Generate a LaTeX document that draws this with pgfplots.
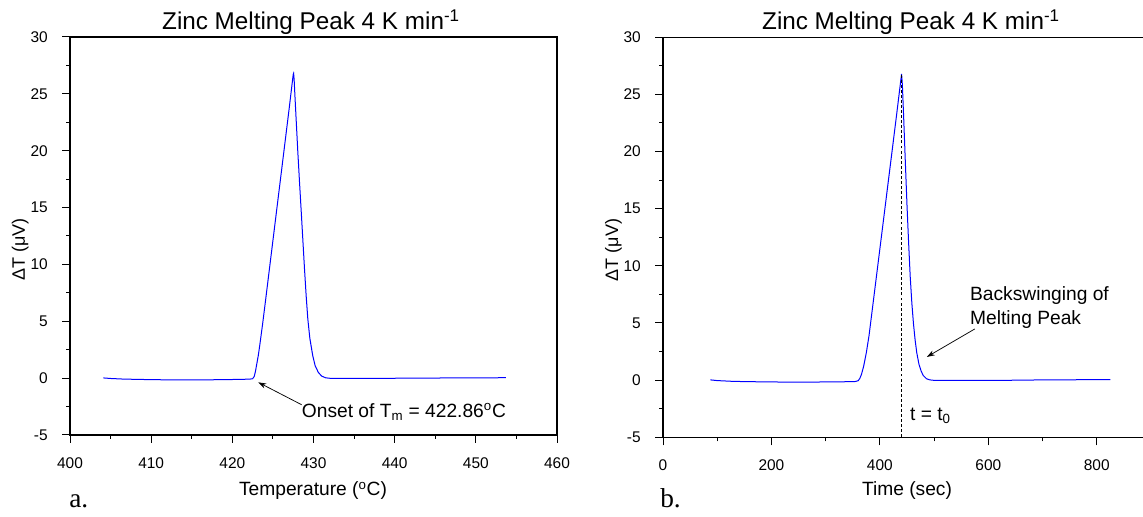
\documentclass[border=0pt]{standalone}
\usepackage{fontspec}
\setmainfont{Liberation Sans}
\newfontfamily\serifa{Liberation Serif}
\usepackage{pgfplots}
\pgfplotsset{compat=1.18}
\usetikzlibrary{arrows.meta}

\pgfplotsset{zstyle/.style={
  scale only axis,
  axis line style={line width=0.9pt},
  tick align=outside,
  tick pos=left,
  major tick length=6pt,
  minor tick length=3pt,
  every tick/.style={black, line width=0.75pt},
  minor tick num=1,
  ymin=-5, ymax=30,
  ytick={-5,0,5,10,15,20,25,30},
  /pgf/number format/assume math mode=true,
  ticklabel style={font=\fontsize{11.6}{13}\selectfont},
  yticklabel style={anchor=east, inner sep=0pt, xshift=-10.5pt},
  xticklabel style={anchor=north, inner sep=0pt, yshift=-10.5pt},
  clip=false,
}}

\begin{document}
\begin{tikzpicture}
% ---------------- a. ----------------
\begin{axis}[zstyle,
  at={(52.5pt,61.5pt)}, anchor=south west,
  width=365.25pt, height=298.5pt,
  xmin=400, xmax=460,
  xtick={400,410,420,430,440,450,460},
]
\addplot[blue, line width=0.75pt] coordinates {
(404.1,0.02) (405.0,-0.03) (406.5,-0.08) (408.3,-0.11) (410.0,-0.13) (412.0,-0.15)
(414.0,-0.16) (416.0,-0.15) (418.0,-0.14) (420.0,-0.12) (421.5,-0.10) (422.2,-0.08)
(422.5,-0.05) (422.7,0.15) (422.85,0.6) (423.0,1.2) (423.2,2.0) (423.4,3.0)
(423.7,4.6) (424.0,6.3) (424.5,9.2) (425.0,12.1) (425.5,15.0) (426.0,17.9)
(426.5,20.8) (427.0,23.7) (427.5,26.7) (427.55,26.8) (427.62,26.2) (427.7,25.0)
(427.88,22.5) (428.06,20.0) (428.28,17.2) (428.5,14.5) (428.7,12.0) (428.9,9.5)
(429.1,7.2) (429.3,5.2) (429.55,3.5) (429.9,2.0) (430.2,1.1) (430.6,0.5)
(431.0,0.18) (431.5,0.03) (432.0,-0.01) (433.0,-0.02) (435.0,-0.02) (437.5,-0.02)
(440.0,-0.01) (442.5,0.0) (445.0,0.01) (447.5,0.02) (450.0,0.03) (452.0,0.03) (453.7,0.04)
};
\draw[-{Stealth[length=6pt,width=4pt]}, line width=0.55pt] (axis cs:428.54,-2.34) -- (axis cs:423.2,-0.37);
\node[anchor=base west, inner sep=0pt, font=\fontsize{14.4}{16}\selectfont] at (axis cs:428.54,-3.48)
  {Onset of T\textsubscript{m} = 422.86\textsuperscript{o}C};
\end{axis}

% ---------------- b. ----------------
\begin{axis}[zstyle,
  at={(497.25pt,59.8pt)}, anchor=south west,
  width=366pt, height=300pt,
  xmin=0, xmax=900,
  xtick={0,200,400,600,800},
  minor xtick={100,300,500,700,900},
  minor tick num=0,
  minor ytick={-2.5,2.5,7.5,12.5,17.5,22.5,27.5},
]
\addplot[blue, line width=0.75pt] coordinates {
(87.5,0.02) (100,-0.04) (125,-0.10) (150,-0.13) (200,-0.16) (250,-0.18)
(300,-0.16) (340,-0.14) (355,-0.12) (360,-0.05) (363,0.15) (366,0.5)
(370,1.2) (375,2.4) (380,3.9) (390,7.7) (400,11.5) (410,15.3) (420,19.1)
(430,22.9) (440,26.8) (441.5,25.8) (444,22.8) (447,19.0)
(450,15.3) (453,12.0) (456,9.0) (459,6.7) (462,4.9) (465,3.5) (468,2.4)
(472,1.4) (476,0.8) (480,0.4) (486,0.12) (492,0.02) (500,-0.02) (550,-0.03)
(600,-0.02) (650,-0.01) (700,0.02) (750,0.03) (800,0.04) (825,0.05)
};
\addplot[black, dashed, line width=0.6pt, dash pattern=on 2.2pt off 1.6pt] coordinates {(440.5,-5) (440.5,26.8)};
\draw[-{Stealth[length=6pt,width=4pt]}, line width=0.55pt] (axis cs:575.1,4.48) -- (axis cs:486.6,2.03);
\node[anchor=base west, inner sep=0pt, font=\fontsize{14.4}{16}\selectfont] at (axis cs:565.9,6.95) {Backswinging of};
\node[anchor=base west, inner sep=0pt, font=\fontsize{14.4}{16}\selectfont] at (axis cs:565.9,4.91) {Melting Peak};
\node[anchor=base west, inner sep=0pt, font=\fontsize{14.4}{16}\selectfont] at (axis cs:455.3,-3.55) {t = t\textsubscript{0}};
\end{axis}

% ---------------- labels (px coordinates, origin top-left) ----------------
\begin{scope}[x=0.75pt, y=-0.75pt, yshift=387.75pt]
\node[anchor=base, inner sep=0pt, font=\fontsize{18.2}{20}\selectfont] at (311,30) {Zinc Melting Peak 4 K min\textsuperscript{-1}};
\node[anchor=base, inner sep=0pt, font=\fontsize{18.2}{20}\selectfont] at (911,30) {Zinc Melting Peak 4 K min\textsuperscript{-1}};
\node[anchor=base, inner sep=0pt, font=\fontsize{14.4}{16}\selectfont] at (313,496) {Temperature (\textsuperscript{o}C)};
\node[anchor=base, inner sep=0pt, font=\fontsize{14.4}{16}\selectfont] at (907,496) {Time (sec)};
\node[anchor=base, rotate=90, inner sep=0pt, font=\fontsize{13.5}{15}\selectfont] at (25,249.5) {ΔT (μV)};
\node[anchor=base, rotate=90, inner sep=0pt, font=\fontsize{13.5}{15}\selectfont] at (618,250) {ΔT (μV)};
\node[anchor=base west, inner sep=0pt, font=\serifa\fontsize{20.5}{22}\selectfont] at (69,508) {a.};
\node[anchor=base west, inner sep=0pt, font=\serifa\fontsize{20.5}{22}\selectfont] at (660,508) {b.};
\end{scope}

\pgfresetboundingbox
\path[use as bounding box] (0,0) rectangle (857.25pt,387.75pt);
\end{tikzpicture}
\end{document}
